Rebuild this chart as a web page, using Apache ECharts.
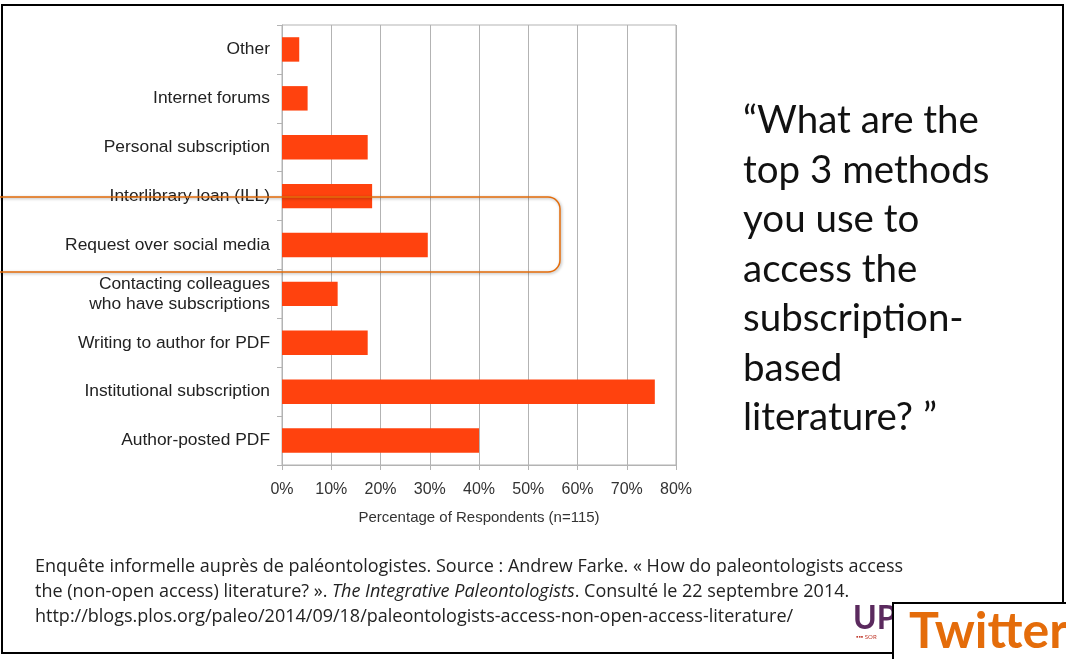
<!DOCTYPE html>
<html><head><meta charset="utf-8">
<script src="https://cdn.jsdelivr.net/npm/echarts@6/dist/echarts.min.js"></script>
<style>html,body{margin:0;padding:0;background:#fff}#c{width:1066px;height:659px}</style>
</head><body><div id="c"></div>
<script>
const categories = ['Other','Internet forums','Personal subscription','Interlibrary loan (ILL)','Request over social media','Contacting colleagues\nwho have subscriptions','Writing to author for PDF','Institutional subscription','Author-posted PDF'];
const percentages = [3.5, 5.2, 17.4, 18.3, 29.6, 11.3, 17.4, 75.7, 40.0];
const xTicks = [0, 10, 20, 30, 40, 50, 60, 70, 80];
const axisTitle = 'Percentage of Respondents (n=115)';
const questionLines = ['\u201cWhat are the','top 3 methods','you use to','access the','subscription-','based','literature? \u201d'];

const chart = echarts.init(document.getElementById('c'), null, {renderer:'canvas'});
const gray = '#b3b3b3';
chart.setOption({
  backgroundColor:'#fff',
  animation:false,
  grid:{left:282, right:390, top:25, bottom:194, show:true, borderColor:gray, borderWidth:1},
  xAxis:{type:'value', min:xTicks[0], max:xTicks[xTicks.length-1], interval:10,
    axisLine:{show:true, lineStyle:{color:gray}},
    axisTick:{show:true, length:5, lineStyle:{color:gray}},
    splitLine:{show:true, lineStyle:{color:gray, width:1}},
    axisLabel:{formatter:'{value}%', color:'#333', fontFamily:'Liberation Sans', fontSize:16, margin:17},
    name:axisTitle, nameLocation:'middle', nameGap:45,
    nameTextStyle:{color:'#333', fontFamily:'Liberation Sans', fontSize:15}
  },
  yAxis:{type:'category', data:categories, inverse:true,
    axisLine:{show:true, lineStyle:{color:gray}},
    axisTick:{show:true, length:5, lineStyle:{color:gray}},
    axisLabel:{color:'#222', fontFamily:'Liberation Sans', fontSize:17.4, margin:12, align:'right', lineHeight:20}
  },
  series:[{type:'bar', data:percentages, barCategoryGap:'50%', itemStyle:{color:'#FF420E'}}],
  graphic:[
    {type:'rect', z:100, shape:{x:-20, y:197, width:580, height:75, r:12},
      style:{fill:'none', stroke:'#E46C0A', lineWidth:1.5, shadowBlur:3, shadowColor:'rgba(0,0,0,0.35)', shadowOffsetX:1, shadowOffsetY:1}},
    {type:'text', z:100, left:743, top:96,
      style:{text:questionLines.join('\n'), fontFamily:'Lato', fontSize:38.5, lineHeight:49.5, fill:'#111'}},
    {type:'text', z:100, left:35, top:554,
      style:{
        text:'Enquête informelle auprès de paléontologistes. Source : Andrew Farke. « How do paleontologists access\nthe (non-open access) literature? ». {i|The Integrative Paleontologists}. Consulté le 22 septembre 2014.\nhttp://blogs.plos.org/paleo/2014/09/18/paleontologists-access-non-open-access-literature/',
        fontFamily:'Open Sans', fontSize:18, lineHeight:25, fill:'#222',
        rich:{i:{fontStyle:'italic', fontFamily:'Open Sans', fontSize:18, lineHeight:25, fill:'#222'}}
      }},
    {type:'rect', z:90, shape:{x:2, y:5, width:1061, height:648}, style:{fill:'none', stroke:'#000', lineWidth:2}},
    {type:'text', z:95, left:853, top:603, style:{text:'UP', fontFamily:'Lato', fontWeight:'bold', fontSize:32, fill:'#5b2a5e'}},
    {type:'text', z:95, left:856, top:634, style:{text:'\u25AA\u25AA\u25AA SOR', fontFamily:'Lato', fontSize:6, fill:'#c0392b'}},
    {type:'rect', z:110, shape:{x:893, y:603, width:180, height:60}, style:{fill:'#fff', stroke:'#000', lineWidth:2}},
    {type:'text', z:111, left:909, top:607, style:{text:'Twitter', fontFamily:'Lato', fontWeight:'bold', fontSize:50, fill:'#E46C0A'}}
  ]
});
</script></body></html>
